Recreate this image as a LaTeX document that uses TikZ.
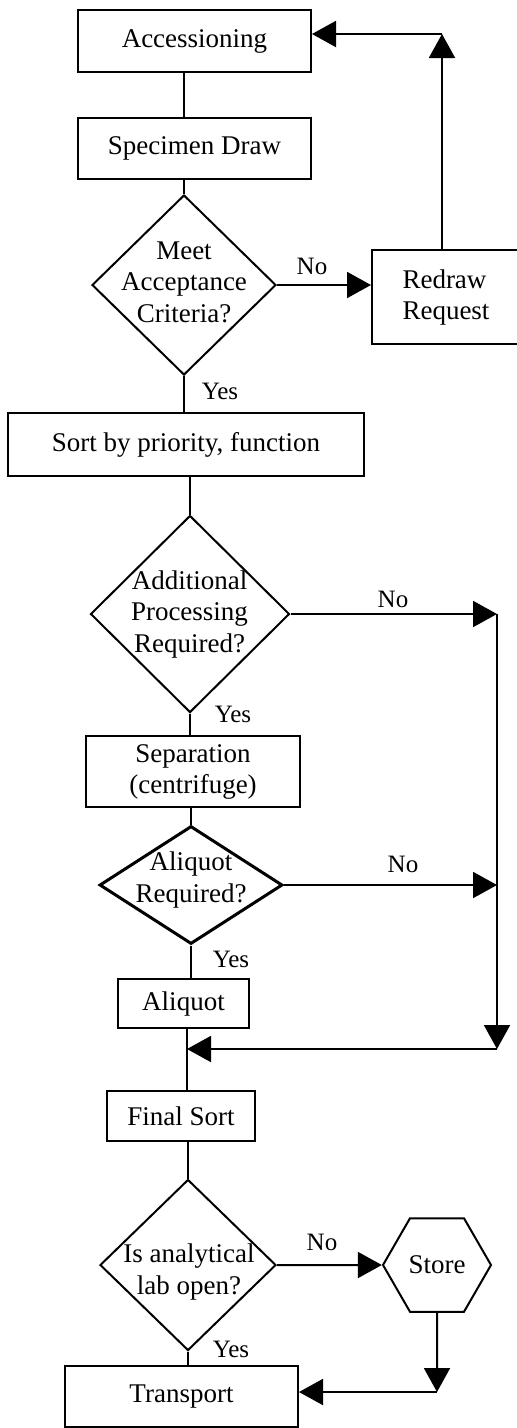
\documentclass[tikz,border=0pt]{standalone}
\usepackage{fontspec}
\setmainfont{Liberation Serif}
\usetikzlibrary{shapes.geometric,arrows.meta}
\begin{document}
\begin{tikzpicture}[x=1pt,y=-1pt,line width=2pt,
	box/.style={draw,rectangle,inner sep=0pt,font=\fontsize{27}{31}\selectfont},
	decision/.style={draw,diamond,inner sep=0pt},
	question/.style={align=center,font=\fontsize{27}{31.5}\selectfont},
	answer/.style={font=\fontsize{25}{30}\selectfont},
	arr/.style={-{Triangle[length=24pt,width=26pt]}}]
				\useasboundingbox (0,0) rectangle (517,1428);
				\node[box,minimum width=233pt,minimum height=62pt] (access) at (194.5,41) {Accessioning};
				\node[box,minimum width=233pt,minimum height=61pt] (specimen) at (194.5,148.5) {Specimen Draw};
				\node[decision,minimum width=184pt,minimum height=180pt] (accept) at (184,285) {};
				\node[question] (acceptq) at (184,282) {Meet\\Acceptance\\Criteria?};
				\node[box,minimum width=148pt,minimum height=94pt,align=left] (redraw) at (446,297) {Redraw\\Request};
				\node[box,minimum width=356pt,minimum height=63pt] (sort) at (186,444.5) {Sort by priority, function};
				\node[decision,minimum width=199pt,minimum height=197pt] (addproc) at (190,614) {};
				\node[question] (addprocq) at (189.5,614) {Additional\\Processing\\Required?};
				\node[box,minimum width=214pt,minimum height=71pt,align=center] (separate) at (193,771.5) {Separation\\(centrifuge)};
				\node[decision,minimum width=183pt,minimum height=118pt,line width=3pt] (aliqq) at (191,885) {};
				\node[question] (aliqqq) at (191,880) {Aliquot\\Required?};
				\node[box,minimum width=131pt,minimum height=49pt] (aliquot) at (183.5,1003.5) {Aliquot};
				\node[box,minimum width=148pt,minimum height=50pt] (finalsort) at (181,1116) {Final Sort};
				\node[decision,minimum width=176pt,minimum height=171pt] (labopen) at (188,1265) {};
				\node[question] (labopenq) at (189,1272) {Is analytical\\lab open?};
				\node[draw,regular polygon,regular polygon sides=6,minimum size=108pt,inner sep=0pt,font=\fontsize{27}{31}\selectfont] (store) at (437,1265) {Store};
				\node[box,minimum width=233pt,minimum height=61pt] (transport) at (181.5,1396.5) {Transport};
				\node[answer] (no1) at (312,266) {No};
				\node[answer] (yes1) at (220,391) {Yes};
				\node[answer] (no2) at (393,599) {No};
				\node[answer] (yes2) at (233,714) {Yes};
				\node[answer] (no3) at (403,864) {No};
				\node[answer] (yes3) at (231,959) {Yes};
				\node[answer] (no4) at (322,1242) {No};
				\node[answer] (yes4) at (231,1349) {Yes};
				\coordinate (loop) at (442,34);
				\coordinate (rtop) at (497,614);
				\coordinate (rbot) at (497,1049);
				\coordinate (merge) at (187,1049);
				\coordinate (storecorner) at (437,1392);
				\draw (access.south -| accept.north) -- (specimen.north -| accept.north);
				\draw (specimen.south -| accept.north) -- (accept.north);
				\draw (accept.south) -- (accept.south |- sort.north);
				\draw (sort.south -| addproc.north) -- (addproc.north);
				\draw (addproc.south) -- (addproc.south |- separate.north);
				\draw (separate.south -| aliqq.north) -- (aliqq.north);
				\draw (aliqq.south) -- (aliqq.south |- aliquot.north);
				\draw (aliquot.south -| merge) -- (finalsort.north -| merge);
				\draw (finalsort.south -| labopen.north) -- (labopen.north);
				\draw (labopen.south) -- (labopen.south |- transport.north);
				\draw[arr] (accept.east) -- (accept.east -| redraw.west);
				\draw[arr] (redraw.north -| loop) -- (loop);
				\draw[arr] (loop) -- (loop -| access.east);
				\draw[arr] (addproc.east) -- (addproc.east -| rtop);
				\draw[arr] (aliqq.east) -- (aliqq.east -| rtop);
				\draw[arr] (rtop) -- (rbot);
				\draw[arr] (rbot) -- (merge);
				\draw[arr] (labopen.east) -- (store.west);
				\draw[arr] (store.south) -- (storecorner);
				\draw[arr] (storecorner) -- (storecorner -| transport.east);
\end{tikzpicture}
\end{document}
